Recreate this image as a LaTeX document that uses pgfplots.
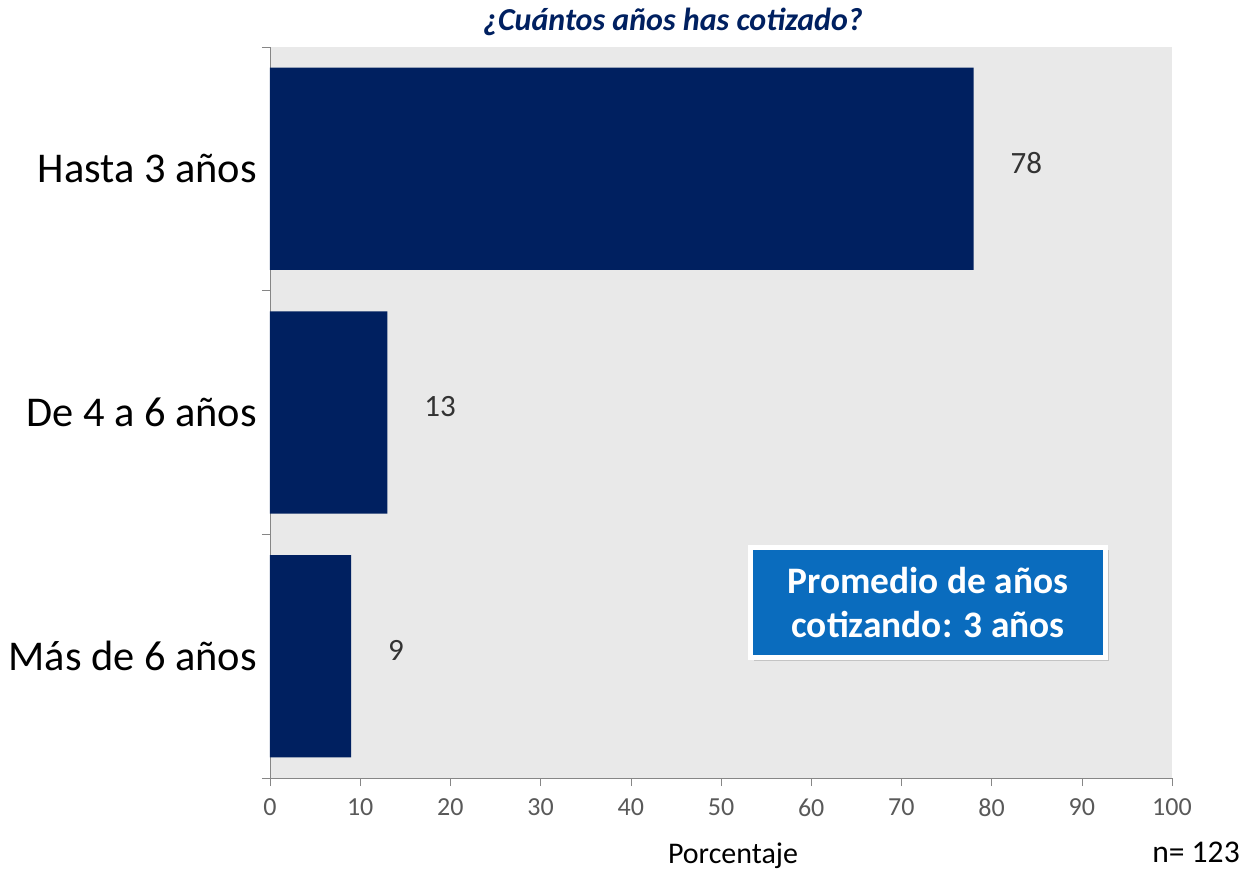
\documentclass[border=0pt]{standalone}
\usepackage{fontspec}
\setmainfont{Carlito}
\usepackage{pgfplots}
\pgfplotsset{compat=1.18}
\usetikzlibrary{shadows}

\definecolor{barnavy}{RGB}{0,32,96}
\definecolor{boxblue}{RGB}{10,108,190}
\definecolor{bggray}{RGB}{233,233,233}
\definecolor{axgray}{RGB}{134,134,134}
\definecolor{ticktxt}{RGB}{89,89,89}

\begin{document}
\begin{tikzpicture}
% page = 1245x872 px at 0.5pt per px, axis box origin at (0,0)
\useasboundingbox (-135pt,-47pt) rectangle (487.5pt,389pt);
\begin{axis}[
    at={(0pt,0pt)}, anchor=south west,
    scale only axis,
    width=451pt, height=365.5pt,
    xbar,
    bar width=0.83,
    xmin=0, xmax=100,
    ymin=-0.5, ymax=2.5,
    y dir=reverse,
    axis x line*=bottom,
    axis y line*=left,
    axis line style={-, draw=axgray},
    axis background/.style={fill=bggray},
    tick align=outside,
    major tick length=4pt,
    tick style={draw=axgray},
    xtick={0,10,...,100},
    xticklabel style={font=\fontsize{13}{15}\selectfont, text=ticktxt, yshift=-3pt,
        /pgf/number format/assume math mode=true},
    ytick={-0.5,0.5,1.5,2.5},
    yticklabels={},
    extra y ticks={0,1,2},
    extra y tick labels={Hasta 3 años, De 4 a 6 años, Más de 6 años},
    extra y tick style={major tick length=0pt,
        yticklabel style={font=\fontsize{21.2}{25}\selectfont, text=black, xshift=-3pt}},
    nodes near coords,
    nodes near coords style={anchor=west, xshift=15pt, yshift=3pt, font=\fontsize{15.5}{17}\selectfont,
        text=black!80, /pgf/number format/assume math mode=true},
]
\addplot[fill=barnavy, draw=none] coordinates {(78,0) (13,1) (9,2)};
\end{axis}
\node[font=\fontsize{16}{18}\selectfont\bfseries\itshape, text=barnavy] at (201.5pt,378pt) {¿Cuántos años has cotizado?};
\node[font=\fontsize{15}{17}\selectfont] at (231.5pt,-39pt) {Porcentaje};
\node[font=\fontsize{15.8}{18}\selectfont] at (463pt,-37pt) {n= 123};
\node[draw=white, line width=2.5pt, fill=boxblue, minimum width=177.5pt, minimum height=55pt,
      drop shadow={opacity=0.35, shadow xshift=1.5pt, shadow yshift=-1.5pt},
      align=center, text=white, font=\fontsize{18.7}{22}\selectfont\bfseries]
      at (329pt,87.75pt) {Promedio de años\\cotizando: 3 años};
\end{tikzpicture}
\end{document}
